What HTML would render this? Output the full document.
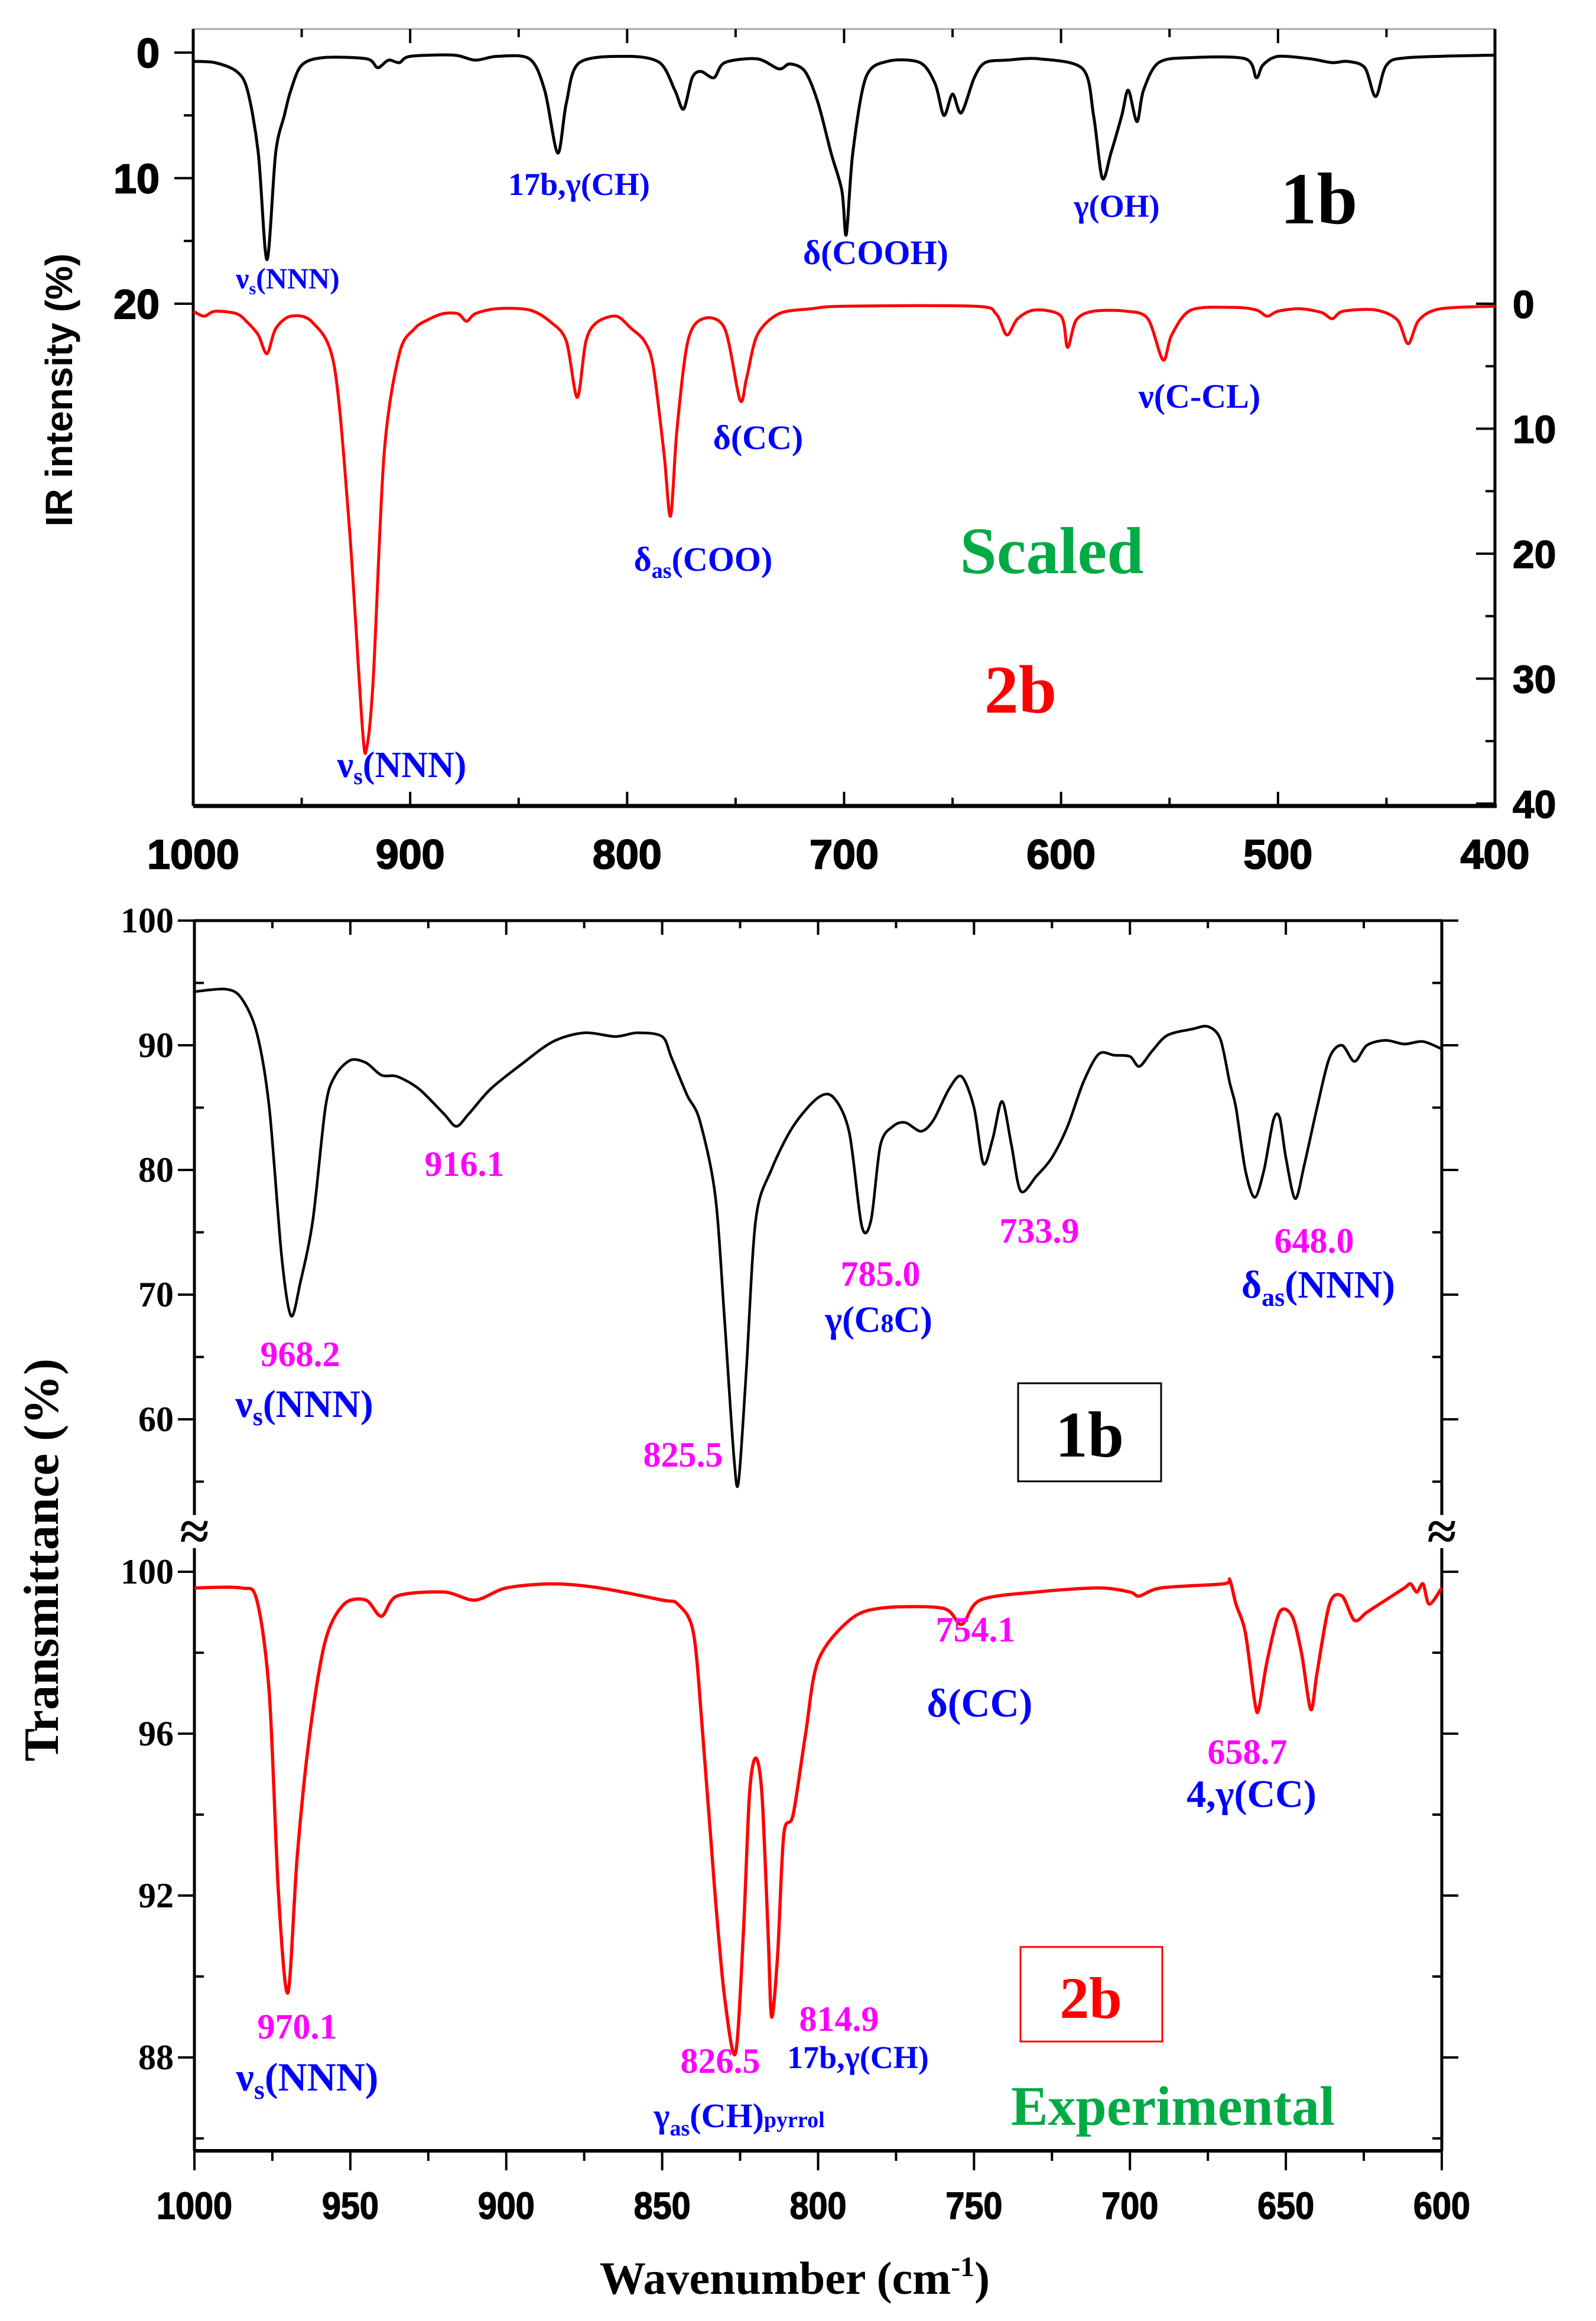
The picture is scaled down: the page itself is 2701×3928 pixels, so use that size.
<!DOCTYPE html>
<html><head><meta charset="utf-8"><style>
html,body{margin:0;padding:0;background:#fff;}
svg{display:block;}
.tk{font-family:"Liberation Sans",Arial,sans-serif;font-weight:bold;}
.sr{font-family:"Liberation Serif","Times New Roman",serif;font-weight:bold;}
</style></head><body>
<svg id="fig" width="2701" height="3928" viewBox="0 0 2701 3928" xmlns="http://www.w3.org/2000/svg">
<rect x="0" y="0" width="2701" height="3928" fill="#fff"/>
<g id="top"></g>
<g id="bot"></g>
</svg>
<script>
// ---------- Top panel (scaled) data ----------
const topWn1b = [1000,990,980,975,970,966,962,958,955,950,940,920,915,910,905,900,880,870,860,845,838,832,828,822,800,785,778,774,770,766,760,755,740,730,725,718,712,706,701,699,696,690,680,665,658,654,650,646,640,635,625,610,590,585,581,577,572,569,565,562,555,540,515,510,507,500,485,475,468,460,455,450,440,400];
const topInt1b = [0.7,0.8,1.5,3,8,16.5,8,5,3,1,0.4,0.5,1.2,0.6,0.8,0.3,0.2,0.6,0.3,0.5,3,8,4,0.8,0.3,0.8,3,4.5,2,1.5,2,0.8,0.5,1.3,0.9,1.5,4,8,11,14.5,8,2,0.7,0.8,2.5,5,3.3,4.8,2,0.8,0.6,0.5,1.3,5,10,8,5,3,5.5,3,0.8,0.4,0.5,2,1,0.3,0.5,0.8,0.7,1.2,3.5,1,0.4,0.2];
const topWn2b = [1000,995,990,980,975,970,966,962,955,945,935,928,922,920,917,912,905,898,892,885,878,874,870,860,845,835,828,823,819,814,805,798,792,788,783,780,777,772,765,755,748,745,740,730,715,700,640,630,625,620,612,600,597,593,585,570,560,553,549,540,520,510,505,500,490,480,475,470,455,445,440,435,425,400];
const topInt2b = [0.6,1.0,0.6,0.8,1.5,2.5,4,2,1,1.5,5,18,34,35.5,30,12,4,2,1.3,0.8,0.8,1.4,0.8,0.4,0.5,1.5,3,7.5,3,1.5,1,2,3,5,12,17,10,3,1.2,2,7.7,6,2.5,0.8,0.4,0.2,0.2,0.8,2.5,1.2,0.5,1.0,3.5,1.3,0.6,0.6,1.2,4.5,2.5,0.5,0.3,0.5,1,0.6,0.4,0.7,1.2,0.6,0.5,1.3,3.2,1.3,0.4,0.2];
const topXTicks = [1000,900,800,700,600,500,400];
const topLeftTicks = [0,10,20];
const topRightTicks = [0,10,20,30,40];
// ---------- Bottom panel (experimental) data ----------
const botWn1b = [1000,990,985,980,976,972,969,966,962,958,955,950,945,940,935,928,920,916,912,905,895,885,875,865,858,850,847,842,838,833,830,827,825.5,823,820,815,808,800,795,790,786,783,780,776,772,767,763,758,754,750,747,744,741,738,735,730,725,720,715,710,705,700,697,693,688,680,675,671,668,666,663,660,657,654,652,650,647,644,640,636,632,628,624,618,612,606,600];
const botT1b = [94.3,94.5,93.8,91,85,73,68.3,71,76,85,87.5,88.8,88.6,87.6,87.5,86.5,84.5,83.5,84.5,86.5,88.5,90.3,91,90.7,91,90.7,89,86,84,78,68,57,55,64,76,80,83.5,85.8,85.8,83,75.5,76,82,83.5,83.8,83.1,84,86.5,87.5,85,80.5,82.5,85.5,82,78.3,79.5,81,83.5,87,89.3,89.2,89.1,88.3,89.5,90.8,91.3,91.5,90.5,87,85,80,77.8,80,84,84.2,81,77.7,80.5,85,89,90,88.7,90,90.4,90.1,90.3,89.7];
const botWn2b = [1000,985,980,976,973,970,967,963,958,952,945,940,935,920,910,900,885,870,850,845,840,837,833,830,826.5,824,822,820,818,816,814.9,813,811,808,804,800,790,780,760,754,748,730,710,700,697,690,670,668,666,663,660,658.7,656,652,648,645,642,640,636,632,628,624,618,612,610,608,606,604,600];
const botT2b = [99.6,99.6,99.3,97,92,89.6,93,96,98.3,99.2,99.3,98.9,99.4,99.5,99.3,99.6,99.7,99.6,99.3,99.2,98.5,96,92,89.5,88.1,91,94.5,95.4,94.5,91,89,90.5,93.5,94,96,97.8,98.8,99.1,99.1,98.7,99.3,99.5,99.6,99.5,99.4,99.6,99.7,99.8,99.2,98.5,96.8,96.6,97.8,99,98.9,98,96.6,97.5,99.2,99.4,98.8,99,99.3,99.6,99.7,99.5,99.7,99.2,99.6];
const botXTicks = [1000,950,900,850,800,750,700,650,600];
const botUpperTicks = [100,90,80,70,60];
const botLowerTicks = [100,96,92,88];

const NS = "http://www.w3.org/2000/svg";
function mk(parent, tag, attrs, text) {
  const e = document.createElementNS(NS, tag);
  for (const k in attrs) e.setAttribute(k, attrs[k]);
  if (text !== undefined) e.textContent = text;
  parent.appendChild(e);
  return e;
}
function pathFrom(xs, ys, fx, fy) {
  const P = xs.map((x, i) => [fx(x), fy(ys[i])]);
  let d = "M" + P[0][0].toFixed(1) + "," + P[0][1].toFixed(1);
  for (let i = 0; i < P.length - 1; i++) {
    const p0 = P[Math.max(0, i - 1)], p1 = P[i], p2 = P[i + 1], p3 = P[Math.min(P.length - 1, i + 2)];
    const k = 0.15;
    const c1 = [p1[0] + (p2[0] - p0[0]) * k, p1[1] + (p2[1] - p0[1]) * k];
    const c2 = [p2[0] - (p3[0] - p1[0]) * k, p2[1] - (p3[1] - p1[1]) * k];
    d += "C" + c1[0].toFixed(1) + "," + c1[1].toFixed(1) + " " + c2[0].toFixed(1) + "," + c2[1].toFixed(1) + " " + p2[0].toFixed(1) + "," + p2[1].toFixed(1);
  }
  return d;
}

// ---------- TOP PANEL ----------
const T = document.getElementById('top');
const tL = 327, tR = 2530, tTop = 49, tBot = 1364;
const tx = w => tL + (1000 - w) * (tR - tL) / 600;
const tyL = v => 89 + v * 21.25;
const tyR = v => 514 + v * 21.15;

let el;
el = mk(T, 'line', {x1:tL, y1:tTop, x2:tR, y2:tTop, stroke:'#aaa', 'stroke-width':3});


el = mk(T, 'line', {x1:tL, y1:tTop, x2:tL, y2:tBot, stroke:'#000', 'stroke-width':5});


el = mk(T, 'line', {x1:tR, y1:tTop, x2:tR, y2:tBot, stroke:'#000', 'stroke-width':5});


el = mk(T, 'line', {x1:tL, y1:tBot, x2:tR+3, y2:tBot, stroke:'#000', 'stroke-width':7});



for (let w = 1000; w >= 400; w -= 50) {
  const major = topXTicks.indexOf(w) >= 0;
  el = mk(T, 'line', {x1:tx(w), y1:tTop, x2:tx(w), y2:tTop + (major ? 24 : 14), stroke:'#000', 'stroke-width':4});
  
  
  el = mk(T, 'line', {x1:tx(w), y1:tBot, x2:tx(w), y2:tBot - (major ? 24 : 14), stroke:'#000', 'stroke-width':4});
  
  
}
topXTicks.forEach(w => {
  el = mk(T, 'text', {x:tx(w), y:1470, 'text-anchor':'middle', 'font-size':70, class:'tk', stroke:'#000', 'stroke-width':2}, String(w));
  
  
});
for (let v = 0; v <= 20; v += 5) {
  const major = topLeftTicks.indexOf(v) >= 0;
  el = mk(T, 'line', {x1:tL - (major ? 32 : 16), y1:tyL(v), x2:tL, y2:tyL(v), stroke:'#000', 'stroke-width':4});
  
  
}
topLeftTicks.forEach(v => {
  el = mk(T, 'text', {x:270, y:tyL(v) + 25, 'text-anchor':'end', 'font-size':70, class:'tk', stroke:'#000', 'stroke-width':2}, String(v));
  
  
});
for (let v = 0; v <= 40; v += 5) {
  const major = topRightTicks.indexOf(v) >= 0;
  el = mk(T, 'line', {x1:tR - (major ? 32 : 16), y1:tyR(v), x2:tR, y2:tyR(v), stroke:'#000', 'stroke-width':4});
  
  
}
topRightTicks.forEach(v => {
  el = mk(T, 'text', {x:2560, y:tyR(v) + 24, 'text-anchor':'start', 'font-size':66, class:'tk', stroke:'#000', 'stroke-width':1.5}, String(v));
  
  
});
el = mk(T, 'text', {x:0, y:0, transform:'translate(122,660) rotate(-90)', 'text-anchor':'middle', 'font-size':64, class:'tk'}, 'IR intensity (%)');



el = mk(T, 'path', {d:pathFrom(topWn1b, topInt1b, tx, tyL), fill:'none', stroke:'#000', 'stroke-width':5, 'stroke-linejoin':'round'});


el = mk(T, 'path', {d:pathFrom(topWn2b, topInt2b, tx, tyR), fill:'none', stroke:'#f00', 'stroke-width':5, 'stroke-linejoin':'round'});



function lab(parent, x, y, size, color, parts, name, anchor) {
  const t = mk(parent, 'text', {x:x, y:y, 'font-size':size, fill:color, class:'sr', 'text-anchor':anchor || 'middle'});
  
  
  parts.forEach(p => {
    if (typeof p === 'string') { mk(t, 'tspan', {}, p); }
    else { mk(t, 'tspan', {'font-size':p.fs || size*0.6, dy:p.dy}, p.t); }
  });
  return t;
}
lab(T, 487, 488, 50, '#00f', ['ν', {t:'s', dy:10}, {t:'(NNN)', dy:-10, fs:50}], 'label-vs-nnn-1b');
lab(T, 980, 330, 54, '#00f', ['17b,γ(CH)'], 'label-17b-ch');
lab(T, 1482, 447, 58, '#00f', ['δ(COOH)'], 'label-d-cooh');
lab(T, 1890, 367, 54, '#00f', ['γ(OH)'], 'label-g-oh');
lab(T, 2232, 378, 124, '#000', ['1b'], 'label-1b-scaled');
lab(T, 1283, 760, 58, '#00f', ['δ(CC)'], 'label-d-cc');
lab(T, 2030, 690, 58, '#00f', ['ν(C-CL)'], 'label-v-c-cl');
lab(T, 1190, 966, 58, '#00f', ['δ', {t:'as', dy:12, fs:38}, {t:'(COO)', dy:-12, fs:58}], 'label-das-coo');
lab(T, 1780, 970, 112, '#0a4', ['Scaled'], 'label-scaled');
lab(T, 1727, 1206, 116, '#f00', ['2b'], 'label-2b-scaled');
lab(T, 680, 1315, 62, '#00f', ['ν', {t:'s', dy:12, fs:40}, {t:'(NNN)', dy:-12, fs:62}], 'label-vs-nnn-2b');

// ---------- BOTTOM PANEL ----------
const B = document.getElementById('bot');
const bL = 329, bR = 2440, bTop = 1558, bBot = 3640, brk = 2592;
const bx = w => bL + (1000 - w) * (bR - bL) / 400;
const byU = v => 1558 + (100 - v) * 21.1;
const byL = v => 2660 + (100 - v) * 68.5;

el = mk(B, 'line', {x1:bL, y1:bTop, x2:bR, y2:bTop, stroke:'#000', 'stroke-width':5});


el = mk(B, 'line', {x1:bL, y1:bBot, x2:bR, y2:bBot, stroke:'#000', 'stroke-width':6});


[[bL,'left'],[bR,'right']].forEach(([x,s]) => {
  el = mk(B, 'line', {x1:x, y1:bTop, x2:x, y2:brk - 28, stroke:'#000', 'stroke-width':5});
  
  
  el = mk(B, 'line', {x1:x, y1:brk + 28, x2:x, y2:bBot, stroke:'#000', 'stroke-width':5});
  
  
  el = mk(B, 'text', {x:x, y:brk + 30, 'text-anchor':'middle', 'font-size':90, class:'sr', fill:'#000'}, '≈');
  
  
});
for (let w = 1000; w >= 600; w -= 25) {
  const major = botXTicks.indexOf(w) >= 0;
  el = mk(B, 'line', {x1:bx(w), y1:bBot, x2:bx(w), y2:bBot + (major ? 33 : 17), stroke:'#000', 'stroke-width':4});
  
  
  el = mk(B, 'line', {x1:bx(w), y1:bTop, x2:bx(w), y2:bTop + (major ? 24 : 13), stroke:'#000', 'stroke-width':4});
  
  
}
botXTicks.forEach(w => {
  el = mk(B, 'text', {x:bx(w), y:3755, 'text-anchor':'middle', 'font-size':64, class:'tk', stroke:'#000', 'stroke-width':1.5, transform:'translate(' + bx(w) + ',0) scale(0.9,1) translate(' + (-bx(w)) + ',0)'}, String(w));
  
  
});
function yTicks(vals, step, lo, hi, fy, name) {
  for (let v = hi; v >= lo - 0.01; v -= step) {
    const major = vals.indexOf(Math.round(v)) >= 0;
    [bL, bR].forEach((x, i) => {
      const dir = i === 0 ? 1 : -1;
      el = mk(B, 'line', {x1:x - dir * (major ? 28 : 0), y1:fy(v), x2:x + (major ? 0 : dir * 16), y2:fy(v), stroke:'#000', 'stroke-width':4});
      
      
    });
  }
  vals.forEach(v => {
    el = mk(B, 'text', {x:294, y:fy(v) + 20, 'text-anchor':'end', 'font-size':60, class:'sr'}, String(v));
    
    
  });
}
yTicks(botUpperTicks, 5, 55, 100, byU, 'upper-y');
yTicks(botLowerTicks, 2, 86, 100, byL, 'lower-y');

el = mk(B, 'text', {x:0, y:0, transform:'translate(98,2640) rotate(-90)', 'text-anchor':'middle', 'font-size':84, class:'sr'}, 'Transmittance (%)');


el = mk(B, 'text', {x:1345, y:3882, 'text-anchor':'middle', 'font-size':78, class:'sr'}, '');


mk(el, 'tspan', {}, 'Wavenumber (cm');
mk(el, 'tspan', {dy:-30, 'font-size':48}, '-1');
mk(el, 'tspan', {dy:30}, ')');

el = mk(B, 'path', {d:pathFrom(botWn1b, botT1b, bx, byU), fill:'none', stroke:'#000', 'stroke-width':4.5, 'stroke-linejoin':'round'});


el = mk(B, 'path', {d:pathFrom(botWn2b, botT2b, bx, byL), fill:'none', stroke:'#f00', 'stroke-width':5.5, 'stroke-linejoin':'round'});



const MG = '#f0f';
lab(B, 786, 1990, 60, MG, ['916.1'], 'peak-916-1');
lab(B, 508, 2312, 60, MG, ['968.2'], 'peak-968-2');
lab(B, 515, 2398, 66, '#00f', ['ν', {t:'s', dy:14, fs:44}, {t:'(NNN)', dy:-14, fs:66}], 'label-vs-nnn-1b-exp');
lab(B, 1156, 2482, 60, MG, ['825.5'], 'peak-825-5');
lab(B, 1490, 2176, 60, MG, ['785.0'], 'peak-785-0');
lab(B, 1487, 2254, 62, '#00f', ['γ(C', {t:'8', fs:44, dy:0}, 'C)'], 'label-g-c8c');
lab(B, 1759, 2103, 60, MG, ['733.9'], 'peak-733-9');
lab(B, 2224, 2120, 60, MG, ['648.0'], 'peak-648-0');
lab(B, 2231, 2196, 66, '#00f', ['δ', {t:'as', dy:14, fs:44}, {t:'(NNN)', dy:-14, fs:66}], 'label-das-nnn');
el = mk(B, 'rect', {x:1723, y:2341, width:242, height:166, fill:'none', stroke:'#000', 'stroke-width':3});


lab(B, 1844, 2465, 110, '#000', ['1b'], 'label-1b-exp');
lab(B, 1651, 2778, 60, MG, ['754.1'], 'peak-754-1');
lab(B, 1658, 2905, 68, '#00f', ['δ(CC)'], 'label-d-cc-exp');
lab(B, 2111, 2985, 60, MG, ['658.7'], 'peak-658-7');
lab(B, 2118, 3058, 66, '#00f', ['4,γ(CC)'], 'label-4-g-cc');
lab(B, 503, 3450, 60, MG, ['970.1'], 'peak-970-1');
lab(B, 520, 3538, 68, '#00f', ['ν', {t:'s', dy:14, fs:46}, {t:'(NNN)', dy:-14, fs:68}], 'label-vs-nnn-2b-exp');
lab(B, 1219, 3508, 60, MG, ['826.5'], 'peak-826-5');
lab(B, 1251, 3600, 58, '#00f', ['γ', {t:'as', dy:14, fs:38}, {t:'(CH)', dy:-14, fs:58}, {t:'pyrrol', fs:38}], 'label-gas-ch-pyrrol');
lab(B, 1420, 3437, 60, MG, ['814.9'], 'peak-814-9');
lab(B, 1452, 3500, 54, '#00f', ['17b,γ(CH)'], 'label-17b-ch-exp');
el = mk(B, 'rect', {x:1727, y:3295, width:240, height:160, fill:'none', stroke:'#f00', 'stroke-width':3});


lab(B, 1846, 3415, 100, '#f00', ['2b'], 'label-2b-exp');
lab(B, 1985, 3596, 94, '#0a4', ['Experimental'], 'label-experimental');
</script>
</body></html>
